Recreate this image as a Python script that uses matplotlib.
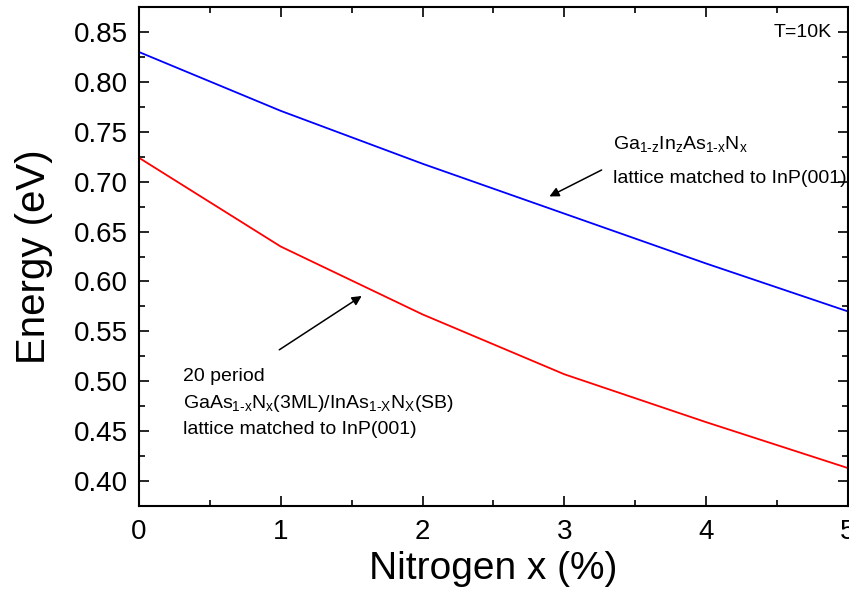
import numpy as np
import matplotlib
matplotlib.use("Agg")
import matplotlib.pyplot as plt
from matplotlib.ticker import MultipleLocator

# ---------------------------------------------
# Data
# ---------------------------------------------
nitrogen = [0, 1, 2, 3, 4, 5]
e_alloy = [0.830, 0.771, 0.718, 0.668, 0.618, 0.570]      # GaInAsN lattice matched
e_sl = [0.724, 0.635, 0.567, 0.507, 0.459, 0.413]         # 20 period superlattice

plt.rcParams['font.family'] = ['Liberation Sans', 'DejaVu Sans']
plt.rcParams['mathtext.fontset'] = 'custom'
plt.rcParams['mathtext.rm'] = 'Liberation Sans'
plt.rcParams['mathtext.it'] = 'Liberation Sans'

fig = plt.figure(figsize=(8.49, 5.92), dpi=100)
ax = fig.add_axes([0.1637, 0.1453, 0.8351, 0.8427])

ax.plot(nitrogen, e_alloy, color='#0000ff', lw=1.3)
ax.plot(nitrogen, e_sl, color='#ff0000', lw=1.3)

ax.set_xlim(0, 5)
ax.set_ylim(0.375, 0.875)
ax.xaxis.set_major_locator(MultipleLocator(1))
ax.xaxis.set_minor_locator(MultipleLocator(0.5))
ax.yaxis.set_major_locator(MultipleLocator(0.05))
ax.yaxis.set_minor_locator(MultipleLocator(0.025))
ax.yaxis.set_major_formatter(plt.FormatStrFormatter('%.2f'))

ax.tick_params(which='both', direction='in', top=True, right=True, width=1.2, labelsize=20)
ax.tick_params(which='major', length=7)
ax.tick_params(which='minor', length=4)
ax.tick_params(axis='x', which='major', pad=9.5)
ax.tick_params(axis='y', which='major', pad=7.8)
for s in ax.spines.values():
    s.set_linewidth(1.5)

ax.set_xlabel('Nitrogen x (%)', fontsize=28, labelpad=4)
ax.set_ylabel('Energy (eV)', fontsize=29, labelpad=15)

# annotations
ax.text(4.887, 0.85, 'T=10K', fontsize=14, ha='right', va='center')

ax.text(3.343, 0.738, r'Ga$_{1\text{-}z}$In$_{z}$As$_{1\text{-}x}$N$_{x}$', fontsize=14, va='center')
ax.text(3.343, 0.703, 'lattice matched to InP(001)', fontsize=14, va='center')
ax.annotate('', xy=(2.877, 0.684), xytext=(3.28, 0.713),
            arrowprops=dict(arrowstyle='-|>', color='black', lw=1.1, mutation_scale=14))

ax.text(0.31, 0.505, '20 period', fontsize=14, va='center')
ax.text(0.31, 0.478, r'GaAs$_{1\text{-}x}$N$_{x}$(3ML)/InAs$_{1\text{-}X}$N$_{X}$(SB)', fontsize=14, va='center')
ax.text(0.31, 0.452, 'lattice matched to InP(001)', fontsize=14, va='center')
ax.annotate('', xy=(1.587, 0.587), xytext=(0.973, 0.530),
            arrowprops=dict(arrowstyle='-|>', color='black', lw=1.1, mutation_scale=14))

fig.savefig('out.png', dpi=100)
